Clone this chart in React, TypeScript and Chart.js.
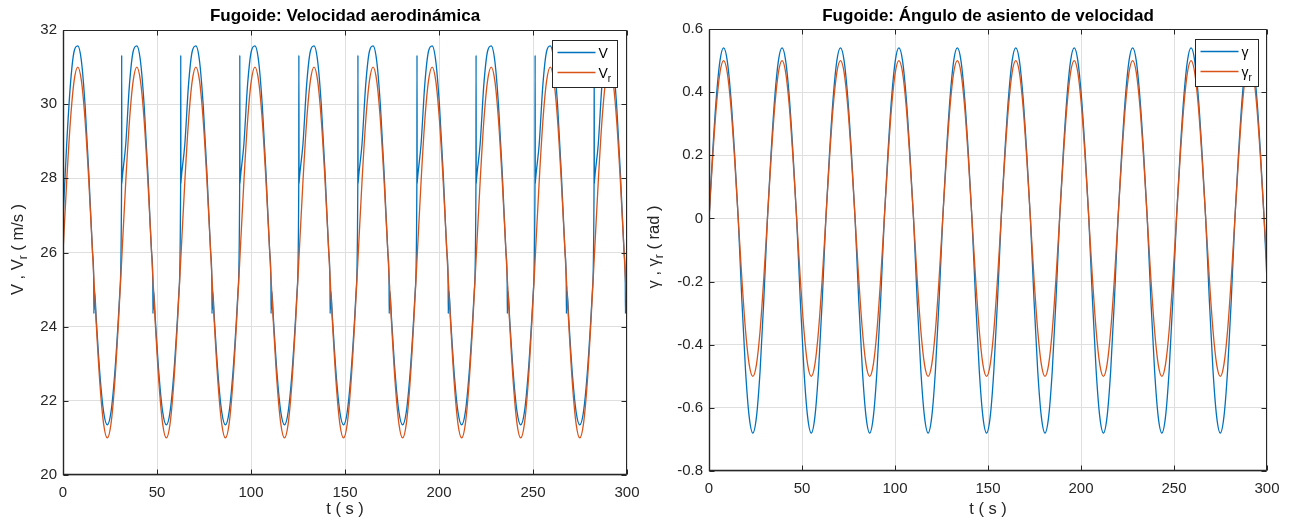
import React, { useEffect, useRef } from "react";
import { Chart, registerables } from "chart.js";

Chart.register(...registerables);

// ---------- data ----------
// common time grid (s) used by V_r, gamma and gamma_r
const timeGrid = [
  0, 1.96, 3.93, 5.89, 7.85, 9.82, 11.78, 13.74, 15.71, 17.67, 19.63, 21.6, 23.56, 25.53, 27.49, 29.45,
  31.42, 33.38, 35.34, 37.31, 39.27, 41.23, 43.2, 45.16, 47.12, 49.09, 51.05, 53.01, 54.98, 56.94, 58.9, 60.87,
  62.83, 64.8, 66.76, 68.72, 70.69, 72.65, 74.61, 76.58, 78.54, 80.5, 82.47, 84.43, 86.39, 88.36, 90.32, 92.28,
  94.25, 96.21, 98.17, 100.14, 102.1, 104.07, 106.03, 107.99, 109.96, 111.92, 113.88, 115.85, 117.81, 119.77, 121.74, 123.7,
  125.66, 127.63, 129.59, 131.55, 133.52, 135.48, 137.44, 139.41, 141.37, 143.34, 145.3, 147.26, 149.23, 151.19, 153.15, 155.12,
  157.08, 159.04, 161.01, 162.97, 164.93, 166.9, 168.86, 170.82, 172.79, 174.75, 176.71, 178.68, 180.64, 182.61, 184.57, 186.53,
  188.5, 190.46, 192.42, 194.39, 196.35, 198.31, 200.28, 202.24, 204.2, 206.17, 208.13, 210.09, 212.06, 214.02, 215.98, 217.95,
  219.91, 221.88, 223.84, 225.8, 227.77, 229.73, 231.69, 233.66, 235.62, 237.58, 239.55, 241.51, 243.47, 245.44, 247.4, 249.36,
  251.33, 253.29, 255.25, 257.22, 259.18, 261.14, 263.11, 265.07, 267.04, 269.0, 270.96, 272.93, 274.89, 276.85, 278.82, 280.78,
  282.74, 284.71, 286.67, 288.63, 290.6, 292.56, 294.52, 296.49, 298.45, 300,
];

// V_r (m/s)
const speedRef = [
  26, 27.91, 29.54, 30.62, 31, 30.62, 29.54, 27.91, 26, 24.09, 22.46, 21.38, 21, 21.38, 22.46, 24.09,
  26, 27.91, 29.54, 30.62, 31, 30.62, 29.54, 27.91, 26, 24.09, 22.46, 21.38, 21, 21.38, 22.46, 24.09,
  26, 27.91, 29.54, 30.62, 31, 30.62, 29.54, 27.91, 26, 24.09, 22.46, 21.38, 21, 21.38, 22.46, 24.09,
  26, 27.91, 29.54, 30.62, 31, 30.62, 29.54, 27.91, 26, 24.09, 22.46, 21.38, 21, 21.38, 22.46, 24.09,
  26, 27.91, 29.54, 30.62, 31, 30.62, 29.54, 27.91, 26, 24.09, 22.46, 21.38, 21, 21.38, 22.46, 24.09,
  26, 27.91, 29.54, 30.62, 31, 30.62, 29.54, 27.91, 26, 24.09, 22.46, 21.38, 21, 21.38, 22.46, 24.09,
  26, 27.91, 29.54, 30.62, 31, 30.62, 29.54, 27.91, 26, 24.09, 22.46, 21.38, 21, 21.38, 22.46, 24.09,
  26, 27.91, 29.54, 30.62, 31, 30.62, 29.54, 27.91, 26, 24.09, 22.46, 21.38, 21, 21.38, 22.46, 24.09,
  26, 27.91, 29.54, 30.62, 31, 30.62, 29.54, 27.91, 26, 24.09, 22.46, 21.38, 21, 21.38, 22.46, 24.09,
  26, 27.91, 29.54, 30.62, 31, 30.62, 29.54, 27.91, 26, 24.48,
];

// gamma (rad)
const gammaActual = [
  0, 0.207, 0.382, 0.499, 0.54, 0.499, 0.382, 0.207, 0, -0.26, -0.481, -0.628, -0.68, -0.628, -0.481, -0.26,
  0, 0.207, 0.382, 0.499, 0.54, 0.499, 0.382, 0.207, 0, -0.26, -0.481, -0.628, -0.68, -0.628, -0.481, -0.26,
  0, 0.207, 0.382, 0.499, 0.54, 0.499, 0.382, 0.207, 0, -0.26, -0.481, -0.628, -0.68, -0.628, -0.481, -0.26,
  0, 0.207, 0.382, 0.499, 0.54, 0.499, 0.382, 0.207, 0, -0.26, -0.481, -0.628, -0.68, -0.628, -0.481, -0.26,
  0, 0.207, 0.382, 0.499, 0.54, 0.499, 0.382, 0.207, 0, -0.26, -0.481, -0.628, -0.68, -0.628, -0.481, -0.26,
  0, 0.207, 0.382, 0.499, 0.54, 0.499, 0.382, 0.207, 0, -0.26, -0.481, -0.628, -0.68, -0.628, -0.481, -0.26,
  0, 0.207, 0.382, 0.499, 0.54, 0.499, 0.382, 0.207, 0, -0.26, -0.481, -0.628, -0.68, -0.628, -0.481, -0.26,
  0, 0.207, 0.382, 0.499, 0.54, 0.499, 0.382, 0.207, 0, -0.26, -0.481, -0.628, -0.68, -0.628, -0.481, -0.26,
  0, 0.207, 0.382, 0.499, 0.54, 0.499, 0.382, 0.207, 0, -0.26, -0.481, -0.628, -0.68, -0.628, -0.481, -0.26,
  0, 0.207, 0.382, 0.499, 0.54, 0.499, 0.382, 0.207, 0, -0.2,
];

// gamma_r (rad)
const gammaRef = [
  0, 0.191, 0.354, 0.462, 0.5, 0.462, 0.354, 0.191, 0, -0.191, -0.354, -0.462, -0.5, -0.462, -0.354, -0.191,
  0, 0.191, 0.354, 0.462, 0.5, 0.462, 0.354, 0.191, 0, -0.191, -0.354, -0.462, -0.5, -0.462, -0.354, -0.191,
  0, 0.191, 0.354, 0.462, 0.5, 0.462, 0.354, 0.191, 0, -0.191, -0.354, -0.462, -0.5, -0.462, -0.354, -0.191,
  0, 0.191, 0.354, 0.462, 0.5, 0.462, 0.354, 0.191, 0, -0.191, -0.354, -0.462, -0.5, -0.462, -0.354, -0.191,
  0, 0.191, 0.354, 0.462, 0.5, 0.462, 0.354, 0.191, 0, -0.191, -0.354, -0.462, -0.5, -0.462, -0.354, -0.191,
  0, 0.191, 0.354, 0.462, 0.5, 0.462, 0.354, 0.191, 0, -0.191, -0.354, -0.462, -0.5, -0.462, -0.354, -0.191,
  0, 0.191, 0.354, 0.462, 0.5, 0.462, 0.354, 0.191, 0, -0.191, -0.354, -0.462, -0.5, -0.462, -0.354, -0.191,
  0, 0.191, 0.354, 0.462, 0.5, 0.462, 0.354, 0.191, 0, -0.191, -0.354, -0.462, -0.5, -0.462, -0.354, -0.191,
  0, 0.191, 0.354, 0.462, 0.5, 0.462, 0.354, 0.191, 0, -0.191, -0.354, -0.462, -0.5, -0.462, -0.354, -0.191,
  0, 0.191, 0.354, 0.462, 0.5, 0.462, 0.354, 0.191, 0, -0.152,
];

// V (m/s): own time samples (spikes and wiggles)
const timeSpeed = [
  0, 1.96, 3.93, 5.89, 7.85, 9.82, 11.78, 13.74, 15.71, 16.35, 16.45, 16.55, 16.65, 16.8, 17.67, 19.63, 21.6, 23.56, 25.53, 27.49, 29.45, 30.3, 31.15, 31.22, 31.3,
  31.42, 33.38, 35.34, 37.31, 39.27, 41.23, 43.2, 45.16, 47.12, 47.77, 47.87, 47.97, 48.07, 48.22, 49.09, 51.05, 53.01, 54.98, 56.94, 58.9, 60.87, 61.72, 62.57, 62.64, 62.72,
  62.83, 64.8, 66.76, 68.72, 70.69, 72.65, 74.61, 76.58, 78.54, 79.18, 79.28, 79.38, 79.48, 79.63, 80.5, 82.47, 84.43, 86.39, 88.36, 90.32, 92.28, 93.13, 93.98, 94.05, 94.13,
  94.25, 96.21, 98.17, 100.14, 102.1, 104.07, 106.03, 107.99, 109.96, 110.6, 110.7, 110.8, 110.9, 111.05, 111.92, 113.88, 115.85, 117.81, 119.77, 121.74, 123.7, 124.55, 125.4, 125.47, 125.55,
  125.66, 127.63, 129.59, 131.55, 133.52, 135.48, 137.44, 139.41, 141.37, 142.01, 142.11, 142.21, 142.31, 142.46, 143.34, 145.3, 147.26, 149.23, 151.19, 153.15, 155.12, 155.96, 156.81, 156.88, 156.96,
  157.08, 159.04, 161.01, 162.97, 164.93, 166.9, 168.86, 170.82, 172.79, 173.43, 173.53, 173.63, 173.73, 173.88, 174.75, 176.71, 178.68, 180.64, 182.61, 184.57, 186.53, 187.38, 188.23, 188.3, 188.38,
  188.5, 190.46, 192.42, 194.39, 196.35, 198.31, 200.28, 202.24, 204.2, 204.85, 204.95, 205.05, 205.15, 205.3, 206.17, 208.13, 210.09, 212.06, 214.02, 215.98, 217.95, 218.8, 219.65, 219.72, 219.8,
  219.91, 221.88, 223.84, 225.8, 227.77, 229.73, 231.69, 233.66, 235.62, 236.26, 236.36, 236.46, 236.56, 236.71, 237.58, 239.55, 241.51, 243.47, 245.44, 247.4, 249.36, 250.21, 251.06, 251.13, 251.21,
  251.33, 253.29, 255.25, 257.22, 259.18, 261.14, 263.11, 265.07, 267.04, 267.68, 267.78, 267.88, 267.98, 268.13, 269.0, 270.96, 272.93, 274.89, 276.85, 278.82, 280.78, 281.63, 282.48, 282.55, 282.63,
  282.74, 284.71, 286.67, 288.63, 290.6, 292.56, 294.52, 296.49, 298.45, 299.09, 299.19, 299.29, 299.39, 299.54, 300,
];

const speedActual = [
  26.9, 28.92, 30.52, 31.42, 31.57, 31.15, 29.94, 28.13, 26.0, 25.2, 24.35, 25.1, 24.45, 24.95, 24.22, 22.71, 21.7, 21.35, 21.7, 22.71, 24.22, 25.0, 27.86, 31.32, 27.86,
  27.95, 28.92, 30.52, 31.42, 31.57, 31.15, 29.94, 28.13, 26.0, 25.2, 24.35, 25.1, 24.45, 24.95, 24.22, 22.71, 21.7, 21.35, 21.7, 22.71, 24.22, 25.0, 27.86, 31.32, 27.86,
  27.95, 28.92, 30.52, 31.42, 31.57, 31.15, 29.94, 28.13, 26.0, 25.2, 24.35, 25.1, 24.45, 24.95, 24.22, 22.71, 21.7, 21.35, 21.7, 22.71, 24.22, 25.0, 27.86, 31.32, 27.86,
  27.95, 28.92, 30.52, 31.42, 31.57, 31.15, 29.94, 28.13, 26.0, 25.2, 24.35, 25.1, 24.45, 24.95, 24.22, 22.71, 21.7, 21.35, 21.7, 22.71, 24.22, 25.0, 27.86, 31.32, 27.86,
  27.95, 28.92, 30.52, 31.42, 31.57, 31.15, 29.94, 28.13, 26.0, 25.2, 24.35, 25.1, 24.45, 24.95, 24.22, 22.71, 21.7, 21.35, 21.7, 22.71, 24.22, 25.0, 27.86, 31.32, 27.86,
  27.95, 28.92, 30.52, 31.42, 31.57, 31.15, 29.94, 28.13, 26.0, 25.2, 24.35, 25.1, 24.45, 24.95, 24.22, 22.71, 21.7, 21.35, 21.7, 22.71, 24.22, 25.0, 27.86, 31.32, 27.86,
  27.95, 28.92, 30.52, 31.42, 31.57, 31.15, 29.94, 28.13, 26.0, 25.2, 24.35, 25.1, 24.45, 24.95, 24.22, 22.71, 21.7, 21.35, 21.7, 22.71, 24.22, 25.0, 27.86, 31.32, 27.86,
  27.95, 28.92, 30.52, 31.42, 31.57, 31.15, 29.94, 28.13, 26.0, 25.2, 24.35, 25.1, 24.45, 24.95, 24.22, 22.71, 21.7, 21.35, 21.7, 22.71, 24.22, 25.0, 27.86, 31.32, 27.86,
  27.95, 28.92, 30.52, 31.42, 31.57, 31.15, 29.94, 28.13, 26.0, 25.2, 24.35, 25.1, 24.45, 24.95, 24.22, 22.71, 21.7, 21.35, 21.7, 22.71, 24.22, 25.0, 27.86, 31.32, 27.86,
  27.95, 28.92, 30.52, 31.42, 31.57, 31.15, 29.94, 28.13, 26.0, 25.2, 24.35, 25.1, 24.45, 24.95, 24.55,
];

const xTickValues = [0, 50, 100, 150, 200, 250, 300];
const xTickLabels = ["0", "50", "100", "150", "200", "250", "300"];
const speedTickValues = [20, 22, 24, 26, 28, 30, 32];
const speedTickLabels = ["20", "22", "24", "26", "28", "30", "32"];
const gammaTickValues = [-0.8, -0.6, -0.4, -0.2, 0, 0.2, 0.4, 0.6];
const gammaTickLabels = ["-0.8", "-0.6", "-0.4", "-0.2", "0", "0.2", "0.4", "0.6"];

const titleLeft = "Fugoide: Velocidad aerodinámica";
const titleRight = "Fugoide: Ángulo de asiento de velocidad";
const xTitle = "t ( s )";

// ---------- style ----------
const FONT = '"Liberation Sans", Arial, Helvetica, sans-serif';
const BLUE = "#0072BD";
const ORANGE = "#D95319";
const AXIS = "#262626";
const GRID = "#dfdfdf";
const TEXT = "#262626";

type Part = { text: string; sub?: boolean };

function drawParts(ctx: CanvasRenderingContext2D, parts: Part[], x: number, y: number, size: number, subSize: number, subShift: number, align: "left" | "center") {
  let total = 0;
  for (const p of parts) {
    ctx.font = `${p.sub ? subSize : size}px ${FONT}`;
    total += ctx.measureText(p.text).width;
  }
  let cx = align === "center" ? x - total / 2 : x;
  ctx.textAlign = "left";
  ctx.textBaseline = "alphabetic";
  for (const p of parts) {
    ctx.font = `${p.sub ? subSize : size}px ${FONT}`;
    ctx.fillText(p.text, cx, p.sub ? y + subShift : y);
    cx += ctx.measureText(p.text).width;
  }
}

const decoPlugin = {
  id: "deco",
  afterDraw(chart: any, _args: any, opts: any) {
    const ctx: CanvasRenderingContext2D = chart.ctx;
    const a = chart.chartArea;
    const xs = chart.scales.x;
    const ys = chart.scales.y;
    ctx.save();
    // box and inward ticks
    ctx.strokeStyle = AXIS;
    ctx.lineWidth = 1;
    const L = Math.round(a.left) + 0.5;
    const R = Math.round(a.right) - 0.5;
    const T = Math.round(a.top) + 0.5;
    const B = Math.round(a.bottom) - 0.5;
    ctx.beginPath();
    ctx.moveTo(L, T);
    ctx.lineTo(R, T);
    ctx.lineTo(R, B);
    ctx.lineTo(L, B);
    ctx.closePath();
    const tk = 5;
    for (const v of xTickValues) {
      const px = Math.round(xs.getPixelForValue(v)) + 0.5;
      ctx.moveTo(px, B);
      ctx.lineTo(px, B - tk);
      ctx.moveTo(px, T);
      ctx.lineTo(px, T + tk);
    }
    for (const v of opts.yTicks) {
      const py = Math.round(ys.getPixelForValue(v)) + 0.5;
      ctx.moveTo(L, py);
      ctx.lineTo(L + tk, py);
      ctx.moveTo(R, py);
      ctx.lineTo(R - tk, py);
    }
    ctx.stroke();
    // thicker left/bottom axis
    ctx.lineWidth = 1.4;
    ctx.beginPath();
    ctx.moveTo(L, T);
    ctx.lineTo(L, B);
    ctx.lineTo(R, B);
    ctx.stroke();

    const cxp = (a.left + a.right) / 2;
    // title
    ctx.fillStyle = "#000";
    ctx.font = `bold 17px ${FONT}`;
    ctx.textAlign = "center";
    ctx.textBaseline = "alphabetic";
    ctx.fillText(opts.title, cxp, 21);
    // x title
    ctx.fillStyle = TEXT;
    ctx.font = `16.5px ${FONT}`;
    ctx.fillText(xTitle, cxp, 514);
    // y title
    ctx.save();
    ctx.translate(opts.yTitleX, (a.top + a.bottom) / 2 - 3);
    ctx.rotate(-Math.PI / 2);
    ctx.fillStyle = TEXT;
    drawParts(ctx, opts.yTitle, 0, 5, 16.5, 12, 4, "center");
    ctx.restore();
    // legend
    const bw = opts.legendW;
    const bh = 47;
    const bx = Math.round(a.right - opts.legendRight - bw) + 0.5;
    const by = Math.round(a.top + 10) + 0.5;
    ctx.fillStyle = "#fff";
    ctx.fillRect(bx, by, bw, bh);
    ctx.strokeStyle = AXIS;
    ctx.lineWidth = 1;
    ctx.strokeRect(bx, by, bw, bh);
    opts.legend.forEach((item: any, i: number) => {
      const ly = by + 12 + i * 20;
      ctx.strokeStyle = item.color;
      ctx.lineWidth = 1.3;
      ctx.beginPath();
      ctx.moveTo(bx + 5, ly);
      ctx.lineTo(bx + 43, ly);
      ctx.stroke();
      ctx.fillStyle = "#000";
      drawParts(ctx, item.parts, bx + 46, ly + 5, 14, 10, 4, "left");
    });
    ctx.restore();
  },
};

function xScale(B: number) {
  return {
    type: "linear",
    min: 0,
    max: 300,
    afterBuildTicks: (s: any) => {
      s.ticks = xTickValues.map((v) => ({ value: v }));
    },
    afterFit: (s: any) => {
      s.height = B;
      s.paddingLeft = 0;
      s.paddingRight = 0;
    },
    grid: { color: GRID, lineWidth: 1, drawTicks: false },
    border: { display: false },
    ticks: {
      padding: 9,
      color: TEXT,
      font: { family: FONT, size: 15 },
      maxRotation: 0,
      autoSkip: false,
      callback: (_v: any, i: number) => xTickLabels[i],
    },
  };
}

function yScale(L: number, min: number, max: number, values: number[], labels: string[]) {
  return {
    type: "linear",
    min,
    max,
    afterBuildTicks: (s: any) => {
      s.ticks = values.map((v) => ({ value: v }));
    },
    afterFit: (s: any) => {
      s.width = L;
      s.paddingTop = 0;
      s.paddingBottom = 0;
    },
    grid: { color: GRID, lineWidth: 1, drawTicks: false },
    border: { display: false },
    ticks: {
      padding: 6,
      color: TEXT,
      font: { family: FONT, size: 15 },
      autoSkip: false,
      callback: (_v: any, i: number) => labels[i],
    },
  };
}

function lineDataset(xs: number[], ys: number[], color: string, order: number) {
  return {
    data: xs.map((x, i) => ({ x, y: ys[i] })),
    borderColor: color,
    backgroundColor: color,
    borderWidth: 1.3,
    pointRadius: 0,
    fill: false,
    cubicInterpolationMode: "monotone",
    order,
  };
}

function leftConfig(): any {
  return {
    type: "line",
    data: {
      datasets: [
        lineDataset(timeSpeed, speedActual, BLUE, 1),
        lineDataset(timeGrid, speedRef, ORANGE, 0),
      ],
    },
    options: {
      animation: false,
      responsive: false,
      devicePixelRatio: 1,
      layout: { padding: { left: 0, right: 13, top: 30, bottom: 0 } },
      scales: {
        x: xScale(46),
        y: yScale(63, 20, 32, speedTickValues, speedTickLabels),
      },
      plugins: {
        legend: { display: false },
        tooltip: { enabled: false },
        title: { display: false },
        deco: {
          title: titleLeft,
          yTicks: speedTickValues,
          yTitleX: 18,
          yTitle: [{ text: "V , V" }, { text: "r", sub: true }, { text: " ( m/s )" }],
          legendW: 65,
          legendRight: 10,
          legend: [
            { color: BLUE, parts: [{ text: "V" }] },
            { color: ORANGE, parts: [{ text: "V" }, { text: "r", sub: true }] },
          ],
        },
      },
    },
    plugins: [decoPlugin],
  };
}

function rightConfig(): any {
  return {
    type: "line",
    data: {
      datasets: [
        lineDataset(timeGrid, gammaActual, BLUE, 1),
        lineDataset(timeGrid, gammaRef, ORANGE, 0),
      ],
    },
    options: {
      animation: false,
      responsive: false,
      devicePixelRatio: 1,
      layout: { padding: { left: 0, right: 23, top: 29, bottom: 0 } },
      scales: {
        x: xScale(50),
        y: yScale(69, -0.8, 0.6, gammaTickValues, gammaTickLabels),
      },
      plugins: {
        legend: { display: false },
        tooltip: { enabled: false },
        title: { display: false },
        deco: {
          title: titleRight,
          yTicks: gammaTickValues,
          yTitleX: 14,
          yTitle: [{ text: "γ , γ" }, { text: "r", sub: true }, { text: " ( rad )" }],
          legendW: 63,
          legendRight: 9,
          legend: [
            { color: BLUE, parts: [{ text: "γ" }] },
            { color: ORANGE, parts: [{ text: "γ" }, { text: "r", sub: true }] },
          ],
        },
      },
    },
    plugins: [decoPlugin],
  };
}

export default function App() {
  const leftRef = useRef<HTMLCanvasElement>(null);
  const rightRef = useRef<HTMLCanvasElement>(null);
  useEffect(() => {
    const c1 = new Chart(leftRef.current as HTMLCanvasElement, leftConfig());
    const c2 = new Chart(rightRef.current as HTMLCanvasElement, rightConfig());
    return () => {
      c1.destroy();
      c2.destroy();
    };
  }, []);
  return (
    <div style={{ position: "fixed", left: 0, top: 0, width: 1290, height: 521, background: "#fff" }}>
      <canvas ref={leftRef} width={640} height={521} style={{ position: "absolute", left: 0, top: 0 }} />
      <canvas ref={rightRef} width={650} height={521} style={{ position: "absolute", left: 640, top: 0 }} />
    </div>
  );
}
